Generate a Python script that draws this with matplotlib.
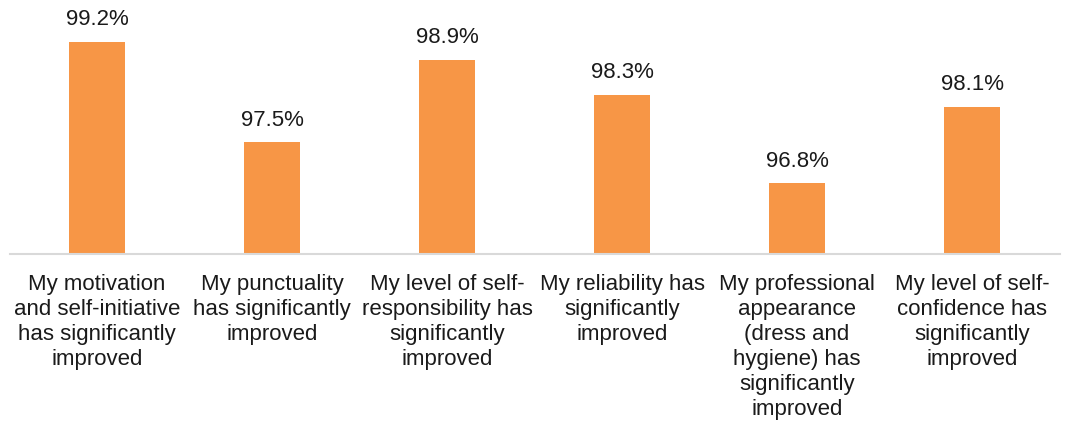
import matplotlib
matplotlib.use("Agg")
import matplotlib.pyplot as plt

plt.rcParams['font.family'] = ['Liberation Sans', 'DejaVu Sans']

categories = [
    "My motivation\nand self-initiative\nhas significantly\nimproved",
    "My punctuality\nhas significantly\nimproved",
    "My level of self-\nresponsibility has\nsignificantly\nimproved",
    "My reliability has\nsignificantly\nimproved",
    "My professional\nappearance\n(dress and\nhygiene) has\nsignificantly\nimproved",
    "My level of self-\nconfidence has\nsignificantly\nimproved",
]
values = [99.2, 97.5, 98.9, 98.3, 96.8, 98.1]

fig = plt.figure(figsize=(10.67, 4.27), dpi=100)
ax = fig.add_axes([9.5 / 1067, 1 - 255 / 427, 1050 / 1067, 255 / 427])

x = range(len(values))
bars = ax.bar(x, values, width=0.315, color="#F79646", zorder=2)
ax.set_ylim(95.6, 99.93)
ax.set_xlim(-0.5, len(values) - 0.5)

for b, v in zip(bars, values):
    ax.annotate(f"{v:.1f}%", (b.get_x() + b.get_width() / 2, v),
                xytext=(0, 9), textcoords="offset points",
                ha="center", va="bottom", fontsize=16, color="#1a1a1a")

ax.set_xticks(list(x))
ax.set_xticklabels(categories, fontsize=16, linespacing=1.24, color="#1a1a1a")
ax.tick_params(axis="x", length=0, pad=14)
ax.set_yticks([])
for s in ["top", "right", "left"]:
    ax.spines[s].set_visible(False)
ax.spines["bottom"].set_color("#D9D9D9")
ax.spines["bottom"].set_linewidth(1.5)

fig.savefig("out.png", dpi=100)
